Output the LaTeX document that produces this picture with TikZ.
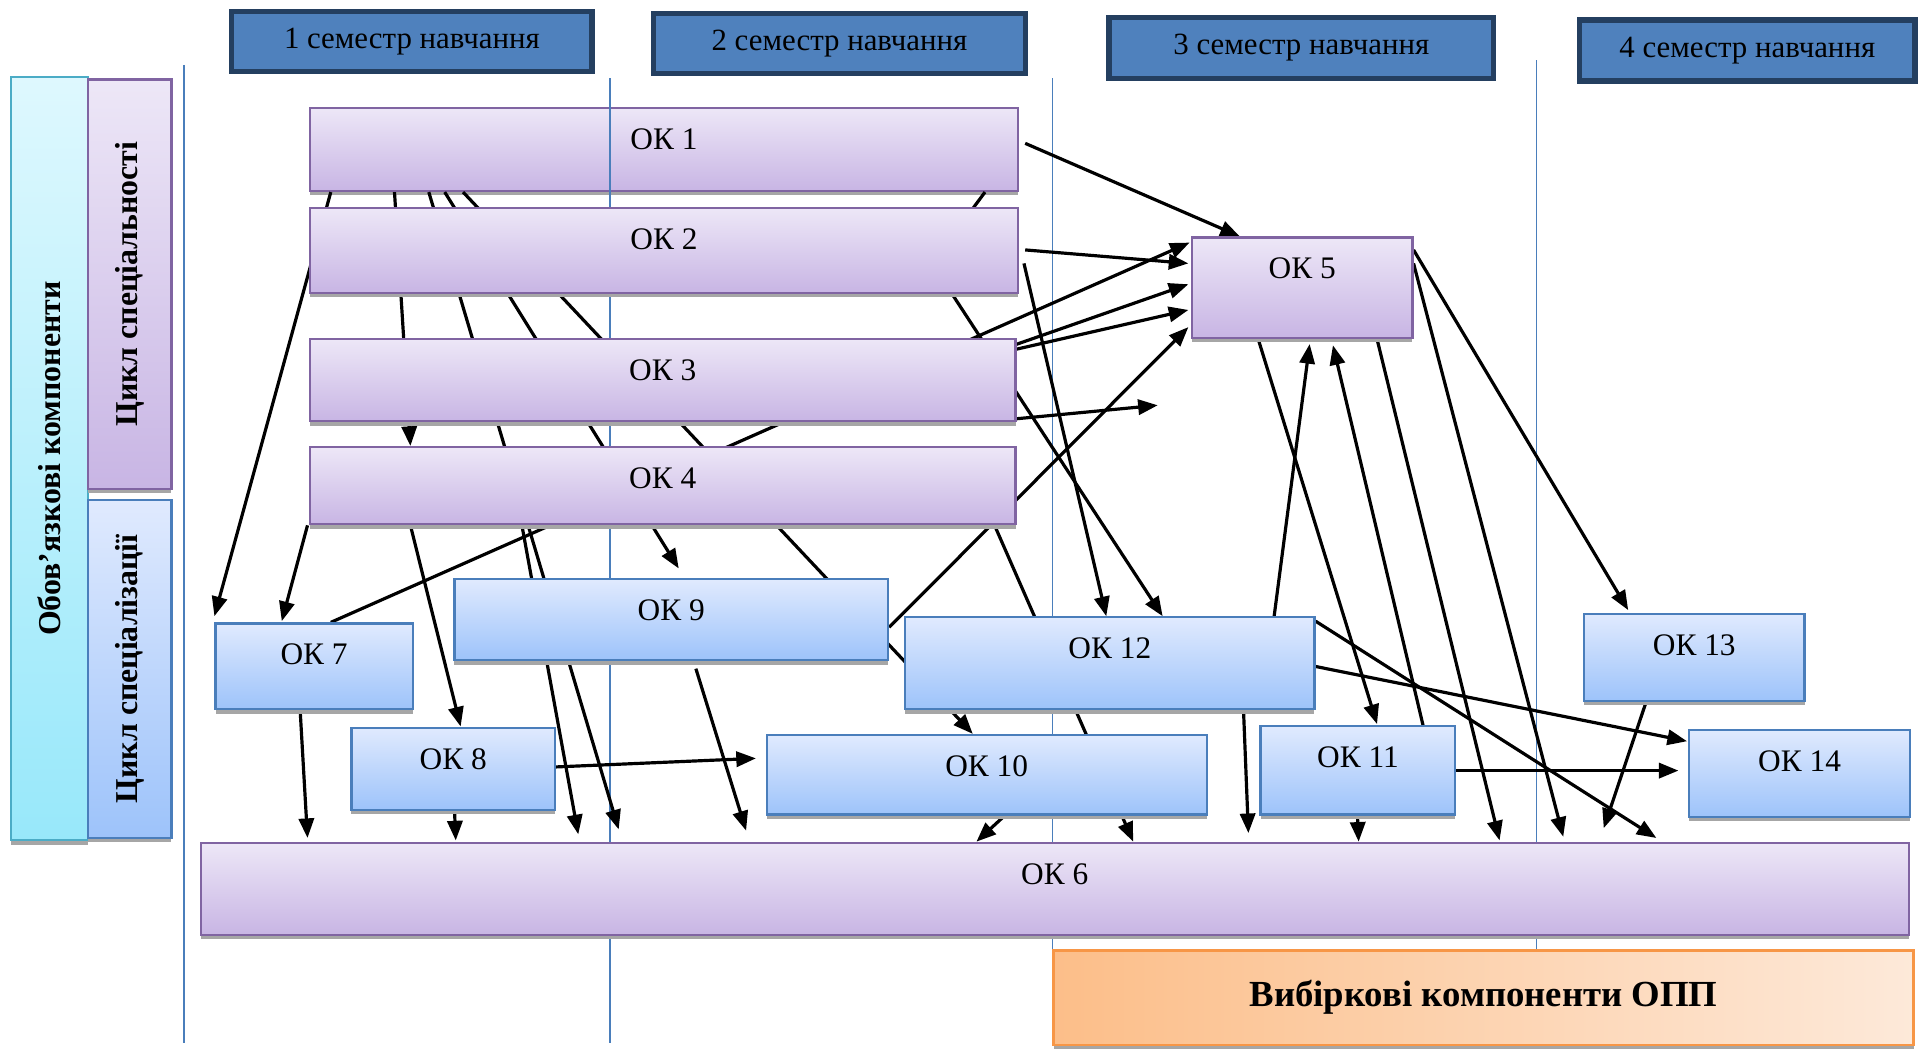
\documentclass[tikz,border=0pt]{standalone}
\usepackage{fontspec}
\setmainfont{Liberation Serif}
\usepackage{tikz}
\usetikzlibrary{arrows.meta,calc,shadows}

\definecolor{lilatop}{RGB}{237,231,247}
\definecolor{lilabot}{RGB}{200,181,228}
\definecolor{lilaline}{RGB}{128,100,162}
\definecolor{bluetop}{RGB}{224,234,254}
\definecolor{bluebot}{RGB}{157,195,250}
\definecolor{blueline}{RGB}{74,126,187}
\definecolor{cyantop}{RGB}{222,248,254}
\definecolor{cyanbot}{RGB}{152,232,250}
\definecolor{cyanline}{RGB}{75,172,198}
\definecolor{orleft}{RGB}{252,190,137}
\definecolor{orright}{RGB}{253,233,217}
\definecolor{orline}{RGB}{247,150,70}
\definecolor{semfill}{RGB}{79,129,189}
\definecolor{semline}{RGB}{36,63,96}
\definecolor{sepcol}{RGB}{74,126,187}

\pgfdeclarelayer{bottom}
\pgfdeclarelayer{background}
\pgfsetlayers{bottom,background,main}

\begin{document}
\begin{tikzpicture}[x=0.5pt,y=-0.5pt,->,>={Triangle[length=8pt,width=6.2pt]},
		link/.style={draw,line width=1.3pt},
		box/.style={inner sep=0pt,anchor=north west,line width=0.9pt,drop shadow={shadow xshift=0pt,shadow yshift=-1.8pt,opacity=1,fill=black!35}},
		lila/.style={box,draw=lilaline,top color=lilatop,bottom color=lilabot},
		blau/.style={box,draw=blueline,top color=bluetop,bottom color=bluebot},
		ok/.style={font=\fontsize{12.8}{15}\selectfont,text height=16.9pt},
		side/.style={font=\bfseries\fontsize{13}{15}\selectfont},
		sem/.style={draw=semline,line width=2.2pt,fill=semfill,inner sep=0pt,anchor=north west,font=\fontsize{12.6}{15}\selectfont},
		sep/.style={-,draw=sepcol,line width=0.6pt}]

			\useasboundingbox (0,0) rectangle (1568,856);

			\node[sem,minimum width=147pt,minimum height=24.5pt] (sem1) at (187,7) {1 семестр навчання};
			\node[sem,minimum width=152pt,minimum height=24.5pt] (sem2) at (531,9) {2 семестр навчання};
			\node[sem,minimum width=157pt,minimum height=25pt] (sem3) at (903,12) {3 семестр навчання};
			\node[sem,minimum width=137pt,minimum height=25pt] (sem4) at (1287,14) {4 семестр навчання};

			\node[box,side,draw=cyanline,top color=cyantop,bottom color=cyanbot,minimum width=31.5pt,minimum height=311.5pt] (oblig) at (8,62) {\rotatebox{90}{Обов'язкові компоненти}};
			\node[lila,side,minimum width=34pt,minimum height=167pt] (spec) at (71,64) {\rotatebox{90}{Цикл спеціальності}};
			\node[blau,side,minimum width=34pt,minimum height=138pt] (spz) at (71,407) {\rotatebox{90}{Цикл спеціалізації}};

			\begin{pgfonlayer}{bottom}
			\node[lila,ok,minimum width=289pt,minimum height=34pt,text depth=17.1pt] (ok1) at (252,87) {ОК 1};
			\end{pgfonlayer}
			\node[lila,ok,minimum width=289pt,minimum height=34.5pt,text depth=17.6pt] (ok2) at (252,169) {ОК 2};
			\node[lila,ok,minimum width=288pt,minimum height=33.5pt,text depth=16.6pt] (ok3) at (252,276) {ОК 3};
			\node[lila,ok,minimum width=288pt,minimum height=31.5pt,text depth=14.6pt] (ok4) at (252,364) {ОК 4};
			\node[lila,ok,minimum width=90pt,minimum height=41pt,text depth=24.1pt] (ok5) at (972,193) {ОК 5};
			\node[lila,ok,minimum width=697pt,minimum height=37.5pt,text depth=20.6pt] (ok6) at (163,687) {ОК 6};
			\node[blau,ok,minimum width=80.5pt,minimum height=35pt,text depth=18.1pt] (ok7) at (175,508) {ОК 7};
			\node[blau,ok,minimum width=83pt,minimum height=33.5pt,text depth=16.6pt] (ok8) at (286,593) {ОК 8};
			\node[blau,ok,minimum width=177pt,minimum height=33pt,text depth=16.1pt] (ok9) at (370,472) {ОК 9};
			\node[blau,ok,minimum width=179.5pt,minimum height=32.5pt,text depth=15.6pt] (ok10) at (625,599) {ОК 10};
			\node[blau,ok,minimum width=79.5pt,minimum height=36pt,text depth=19.1pt] (ok11) at (1028,592) {ОК 11};
			\node[blau,ok,minimum width=167pt,minimum height=37.5pt,text depth=20.6pt] (ok12) at (738,503) {ОК 12};
			\node[blau,ok,minimum width=90pt,minimum height=35.5pt,text depth=18.6pt] (ok13) at (1292,500) {ОК 13};
			\node[blau,ok,minimum width=90pt,minimum height=35.5pt,text depth=18.6pt] (ok14) at (1378,595) {ОК 14};

			\node[box,draw=orline,left color=orleft,right color=orright,font=\bfseries\fontsize{15}{18}\selectfont,minimum width=351pt,minimum height=38.5pt] (opp) at (859,775) {Вибіркові компоненти ОПП};

			\begin{pgfonlayer}{background}
			\draw[sep] (150,53) -- (150,851);
			\draw[sep] (498,64) -- (498,851);
			\draw[sep] (859,64) -- (opp.north west);
			\draw[sep] (1254,49) -- (1254,775);

			\begin{scope}[every edge/.style={link}]
			\path ($(ok1.south west)+(18,0)$)	edge ($(ok7.north west)+(0,-5)$);
			\path ($(ok1.south west)+(70,0)$)	edge ($(ok4.north west)+(83,0)$);
			\path ($(ok1.south west)+(98,0)$)	edge ($(ok6.north west)+(342,-10)$);
			\path ($(ok1.south west)+(111,0)$)	edge ($(ok9.north west)+(184,-8)$);
			\path ($(ok1.south west)+(126,0)$)	edge ($(ok10.north west)+(169,0)$);
			\path ($(ok1.south west)+(552,0)$)	edge[-] ($(ok2.north west)+(534,12)$);
			\path ($(ok1.north east)+(5,30)$)	edge ($(ok5.north west)+(40,0)$);
			\path ($(ok2.south west)+(525,0)$)	edge ($(ok12.north west)+(211,0)$);
			\path ($(ok2.north east)+(5,35)$)	edge ($(ok5.north west)+(-2,22)$);
			\path ($(ok2.north east)+(4,46)$)	edge ($(ok12.north west)+(165,0)$);
			\path ($(ok3.north east)+(0,5)$)	edge ($(ok5.north west)+(-2,39)$);
			\path ($(ok3.north east)+(0,9)$)	edge ($(ok5.north west)+(-2,60)$);
			\path ($(ok3.south east)+(0,-3)$)	edge ($(ok5.south west)+(-27,54)$);
			\path ($(ok4.south west)+(-1,0)$)	edge ($(ok7.north west)+(55,-1)$);
			\path ($(ok4.south west)+(83,0)$)	edge ($(ok8.north west)+(90,0)$);
			\path ($(ok4.south west)+(174,0)$)	edge ($(ok6.north west)+(309,-6)$);
			\path ($(ok4.south east)+(-18,0)$)	edge ($(ok6.north west)+(762,0)$);
			\path ($(ok7.north west)+(95,0)$)	edge ($(ok5.north west)+(-1,5)$);
			\path ($(ok7.south west)+(70,0)$)	edge ($(ok6.north west)+(88,-3)$);
			\path ($(ok8.south west)+(85,0)$)	edge ($(ok6.north west)+(209,-1)$);
			\path ($(ok8.north east)+(0,33)$)	edge ($(ok10.north west)+(-8,20)$);
			\path ($(ok9.north east)+(0,40)$)	edge ($(ok5.north west)+(-2,74)$);
			\path ($(ok9.south west)+(198,6)$)	edge ($(ok6.north west)+(446,-9)$);
			\path ($(ok10.south west)+(195,0)$)	edge ($(ok6.north west)+(634,0)$);
			\path ($(ok12.south west)+(277,0)$)	edge ($(ok6.north west)+(856,-7)$);
			\path ($(ok12.north west)+(302,0)$)	edge ($(ok5.south west)+(97,4)$);
			\path ($(ok12.north east)+(0,41)$)	edge ($(ok14.north west)+(-1,10)$);
			\path ($(ok12.north east)+(0,4)$)	edge ($(ok6.north west)+(1189,-3)$);
			\path ($(ok5.south west)+(55,0)$)	edge ($(ok11.north west)+(96,-1)$);
			\path ($(ok11.north west)+(134,2)$)	edge ($(ok5.south west)+(116,5)$);
			\path ($(ok5.south west)+(152,0)$)	edge ($(ok6.north west)+(1061,-1)$);
			\path ($(ok5.north east)+(0,22)$)	edge ($(ok6.north west)+(1113,-4)$);
			\path ($(ok5.north east)+(0,11)$)	edge ($(ok13.north west)+(37,-2)$);
			\path ($(ok13.south west)+(51,2)$)	edge ($(ok6.north west)+(1146,-11)$);
			\path ($(ok11.north east)+(0,37)$)	edge ($(ok14.north west)+(-8,34)$);
			\path ($(ok11.south west)+(80,0)$)	edge ($(ok6.north west)+(946,0)$);
			\end{scope}
			\end{pgfonlayer}
		\end{tikzpicture}
\end{document}
